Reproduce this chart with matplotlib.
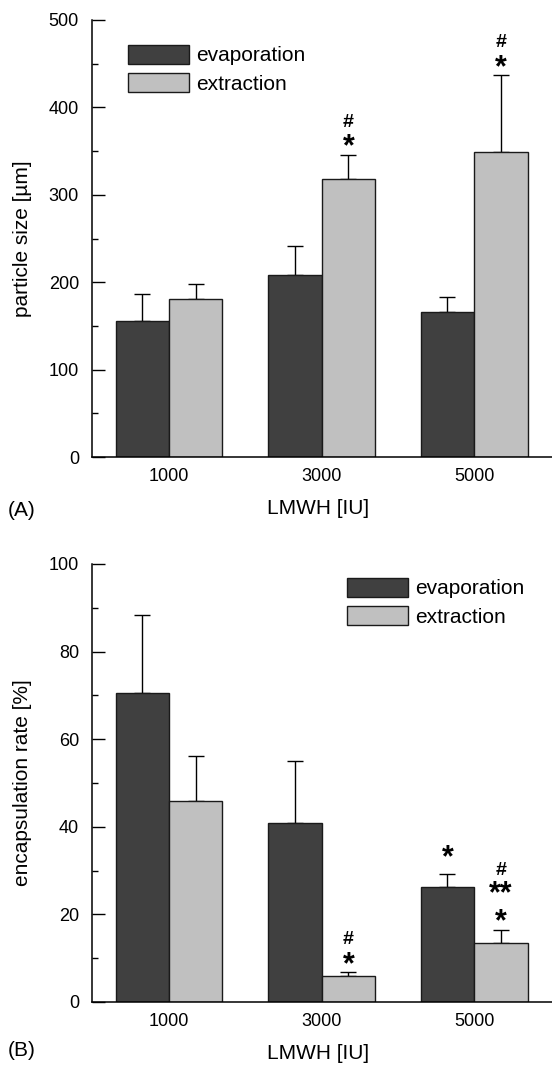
import matplotlib as mpl
mpl.use('Agg')
import matplotlib.pyplot as plt
import numpy as np

plt.rcParams['font.family'] = ['Liberation Sans', 'DejaVu Sans']

doses = ['1000', '3000', '5000']
series = ['evaporation', 'extraction']
colors = ['#404040', '#c0c0c0']

size_evap = [156, 208, 166]
size_evap_err = [30, 33, 17.5]
size_extr = [181, 318, 349]
size_extr_err = [17, 28, 88]

enc_evap = [70.5, 40.9, 26.2]
enc_evap_err = [17.9, 14.1, 3.0]
enc_extr = [45.9, 5.9, 13.5]
enc_extr_err = [10.2, 0.9, 3.0]

# significance marks: (group, series index, star lines bottom->top, has '#')
size_marks = [(1, 1, ['*'], True), (2, 1, ['*'], True)]
enc_marks = [(1, 1, ['*'], True), (2, 0, ['*'], False), (2, 1, ['*', '**'], True)]

W, H = 552, 1066
fig = plt.figure(figsize=(W / 100, H / 100), dpi=100)

def px_box(x0, y0, x1, y1):
  return [x0 / W, 1 - y1 / H, (x1 - x0) / W, (y1 - y0) / H]

def draw_panel(ax, vals, errs, marks, ymax, major, ylabel, leg_xy):
  x = np.arange(len(doses))
  w = 0.35
  for i, (v, e) in enumerate(zip(vals, errs)):
    xs = x + (i - 0.5) * w
    ax.bar(xs, v, w, color=colors[i], edgecolor='#1a1a1a', linewidth=1.0,
           label=series[i], zorder=2)
    # lower half hidden behind the bar
    ax.errorbar(xs, v, yerr=[np.zeros(len(v)), e], fmt='none', ecolor='black',
                elinewidth=1.0, capsize=6, capthick=1.0, zorder=1)
  # stars as one multi-line text, '#' on top
  sfs = 22
  for g, s, stars, hash_mark in marks:
    xs = x[g] + (s - 0.5) * w
    top = vals[s][g] + errs[s][g]
    n = len(stars)
    star_px = 17 if s == 1 else 26
    ax.annotate('\n'.join(reversed(stars)), (xs, top),
                xytext=(0, star_px * 0.72 - 0.58 * sfs), textcoords='offset points',
                ha='center', va='baseline', fontsize=sfs, fontweight='bold',
                linespacing=0.92)
    if hash_mark:
      hash_px = star_px + 20 * (n - 1) + (25 if n > 1 else 18)
      ax.annotate('#', (xs, top), xytext=(0, hash_px * 0.72 - 0.36 * 14),
                  textcoords='offset points', ha='center', va='baseline',
                  fontsize=14, fontweight='bold')
  ax.set_xlim(-0.505, 2.51)
  ax.set_ylim(0, ymax)
  ax.set_xticks(x)
  ax.set_xticklabels(doses)
  ax.set_yticks(np.arange(0, ymax + 1, major))
  ax.set_yticks(np.arange(major / 2, ymax, major), minor=True)
  ax.tick_params(axis='y', which='major', direction='in', length=9, width=1,
                 pad=9.4, labelsize=13)
  ax.tick_params(axis='y', which='minor', direction='in', length=4, width=1)
  ax.tick_params(axis='x', length=0, pad=8, labelsize=13)
  for sp in ['top', 'right']:
    ax.spines[sp].set_visible(False)
  for sp in ['left', 'bottom']:
    ax.spines[sp].set_linewidth(1.1)
  ax.set_ylabel(ylabel, fontsize=15)
  ax.yaxis.set_label_coords(-0.13, 0.5)
  ax.set_xlabel('LMWH [IU]', fontsize=15)
  ax.xaxis.set_label_coords(0.491, -0.096)
  ax.legend(loc='upper left', bbox_to_anchor=leg_xy, frameon=False, fontsize=15,
            handlelength=2.93, handleheight=1.0, handletextpad=0.33,
            labelspacing=0.38, borderpad=0, borderaxespad=0)

ax1 = fig.add_axes(px_box(92, 20, 552, 457))
draw_panel(ax1, [size_evap, size_extr], [size_evap_err, size_extr_err],
           size_marks, 500, 100, 'particle size [\u00b5m]', (0.078, 0.943))
fig.text(8 / W, 1 - 510 / H, '(A)', ha='left', va='center', fontsize=15)

ax2 = fig.add_axes(px_box(92, 564, 552, 1002))
draw_panel(ax2, [enc_evap, enc_extr], [enc_evap_err, enc_extr_err],
           enc_marks, 100, 20, 'encapsulation rate [%]', (0.554, 0.968))
fig.text(8 / W, 1 - 1051 / H, '(B)', ha='left', va='center', fontsize=15)

fig.savefig('out.png', dpi=100)
plt.close(fig)
